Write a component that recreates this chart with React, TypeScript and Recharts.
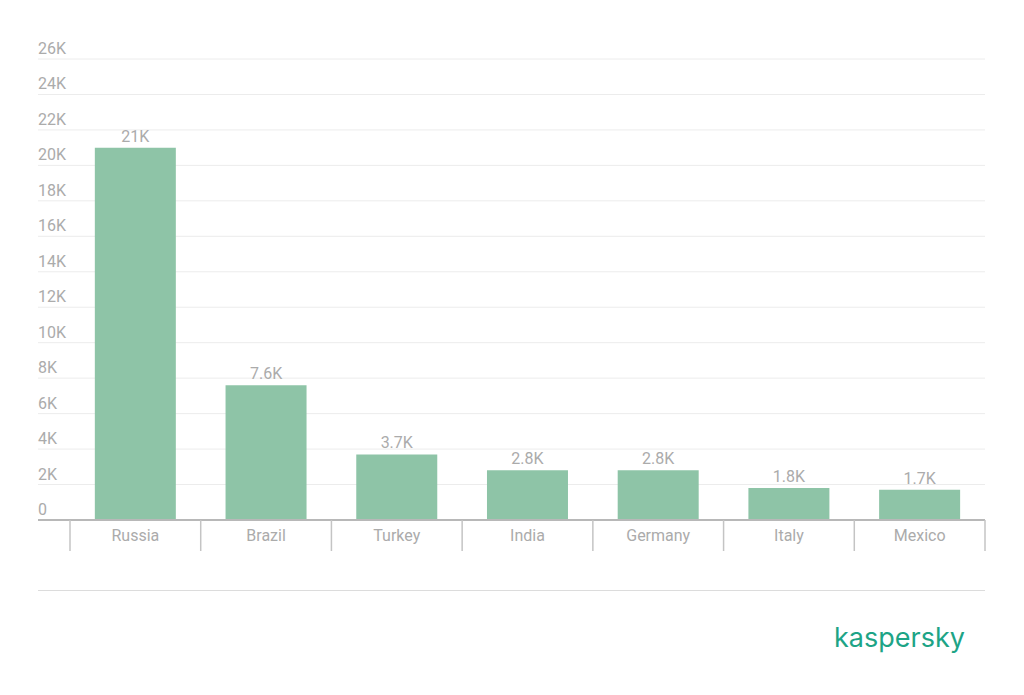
import React from "react";
import { BarChart, Bar, XAxis, YAxis, CartesianGrid, LabelList } from "recharts";

const countries = ["Russia", "Brazil", "Turkey", "India", "Germany", "Italy", "Mexico"];
const values = [21000, 7600, 3700, 2800, 2800, 1800, 1700];
const yTicks = [0, 2000, 4000, 6000, 8000, 10000, 12000, 14000, 16000, 18000, 20000, 22000, 24000, 26000];

const data = countries.map((c, i) => ({ country: c, value: values[i] }));

const fmt = (v: number) => (v === 0 ? "0" : `${parseFloat((v / 1000).toFixed(1))}K`);

const TEXT = "#ababab";
const FONT = "Roboto, 'Noto Sans', sans-serif";

const renderYTick = (props: any) => {
  const { y, payload } = props;
  return (
    <text key={`yt-${payload.value}`} x={38} y={y - 5} fill={TEXT} fontSize={16} fontFamily={FONT} textAnchor="start">
      {fmt(payload.value)}
    </text>
  );
};

const renderXTick = (props: any) => {
  const { x, y, payload, index } = props;
  const half = payload && payload.offset ? payload.offset : 130.7 / 2;
  const last = index === countries.length - 1;
  return (
    <g key={`xt-${index}`}>
      <line x1={x - half} x2={x - half} y1={y - 8} y2={y + 23} stroke="#c4c4c4" strokeWidth={1.5} />
      {last && <line x1={x + half} x2={x + half} y1={y - 8} y2={y + 23} stroke="#c4c4c4" strokeWidth={1.5} />}
      <text x={x} y={y + 13} fill={TEXT} fontSize={16} fontFamily={FONT} textAnchor="middle">
        {payload.value}
      </text>
    </g>
  );
};

export default function App() {
  return (
    <div style={{ position: "absolute", left: 0, top: 0, width: 1024, height: 695, background: "#fff" }}>
      <BarChart
        width={1024}
        height={695}
        data={data}
        margin={{ top: 59, right: 39, left: 8, bottom: 144 }}
        barCategoryGap="19%"
      >
        <CartesianGrid vertical={false} stroke="#ececec" strokeWidth={1} />
        <YAxis
          width={30}
          domain={[0, 26000]}
          ticks={yTicks}
          interval={0}
          axisLine={false}
          tickLine={false}
          tick={renderYTick}
        />
        <XAxis
          dataKey="country"
          height={31}
          padding={{ left: 32, right: 0 }}
          axisLine={{ stroke: "#b8b8b8", strokeWidth: 2 }}
          tickLine={false}
          interval={0}
          tick={renderXTick}
        />
        <Bar dataKey="value" fill="#8ec4a7" isAnimationActive={false}>
          <LabelList
            dataKey="value"
            position="top"
            offset={6}
            formatter={(v: any) => fmt(Number(v))}
            fill={TEXT}
            fontSize={16}
            fontFamily={FONT}
          />
        </Bar>
      </BarChart>
      <div style={{ position: "absolute", left: 38, top: 590, width: 947, height: 1, background: "#dcdcdc" }} />
      <div
        style={{
          position: "absolute",
          left: 834,
          top: 622,
          fontFamily: "Inter, 'Noto Sans', sans-serif",
          fontSize: 27,
          fontWeight: 400,
          color: "#1da486",
          letterSpacing: 0,
          lineHeight: "32px",
        }}
      >
        kaspersky
      </div>
    </div>
  );
}
